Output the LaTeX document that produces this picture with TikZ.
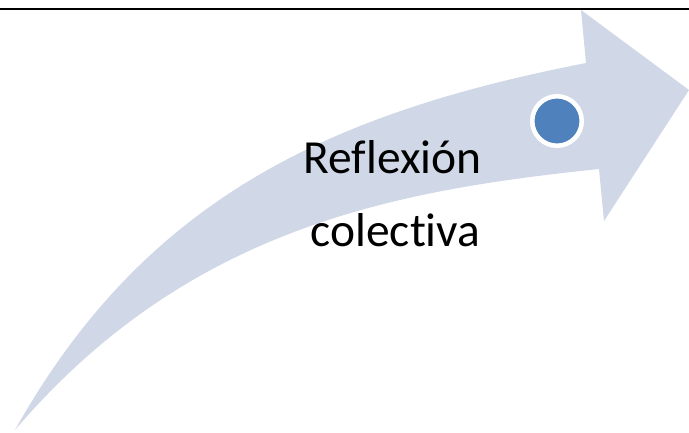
\documentclass[tikz,border=0pt]{standalone}
\usepackage{fontspec}
\setmainfont{Carlito}[Ligatures=NoCommon]
\definecolor{arrowfill}{HTML}{D0D8E8}
\definecolor{dotblue}{HTML}{4F81BD}
\begin{document}
\begin{tikzpicture}[x=1pt,y=-1pt,
  label text/.style={font=\fontsize{47.5}{50}\selectfont, text=black, inner sep=0pt},
  dot/.style={circle, fill=dotblue, draw=white, line width=4.5pt, minimum size=49.5pt, inner sep=0pt}]
\useasboundingbox (0,0) rectangle (689,432);
\fill[white] (0,0) rectangle (689,432);
\draw[line width=2.5pt] (0,9) -- (689,9);
\fill[arrowfill]
  (15,430) .. controls (145,198) and (330,113) .. (586,63)
  -- (581,10) -- (689,90) -- (604,221) -- (599,169)
  .. controls (400,190) and (190,225) .. (15,430)
  -- cycle;
\node[dot] (d) at (557,121) {};
\node[label text, anchor=base] (t1) at (392.5,173) {Reflexión};
\node[label text, anchor=base] (t2) at (395.5,246) {colectiva};
\end{tikzpicture}
\end{document}
